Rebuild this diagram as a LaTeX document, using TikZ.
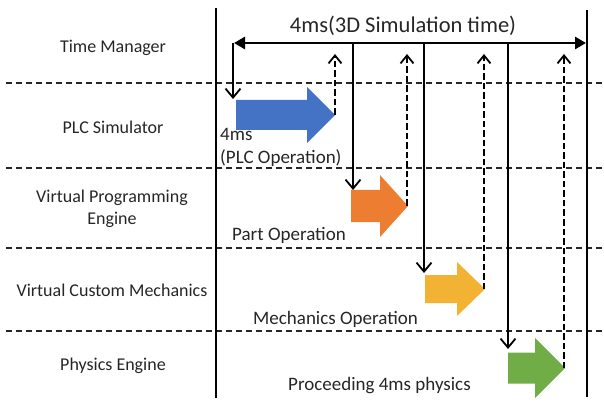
\documentclass[tikz,border=0pt]{standalone}
\usepackage{fontspec}
\setmainfont{Carlito}
\usetikzlibrary{arrows.meta}
\definecolor{plcblue}{HTML}{4472C4}
\definecolor{partorange}{HTML}{ED7D31}
\definecolor{mechyellow}{HTML}{F2B233}
\definecolor{physgreen}{HTML}{70AD47}
\tikzset{
  lane/.style={draw=black!85, line width=1.2pt, dash pattern=on 6pt off 4pt},
  border/.style={draw=black, line width=2.4pt},
  span/.style={line width=2.8pt, {Triangle[length=11pt,width=12pt]}-{Triangle[length=11pt,width=12pt]}},
  trigger/.style={line width=1.8pt, -{Straight Barb[length=9pt,width=15pt,line width=1.8pt]}},
  report/.style={line width=1.9pt, dash pattern=on 6.5pt off 3pt, -{Straight Barb[length=8pt,width=13pt,line width=1.8pt]}},
  lanelabel/.style={font=\fontsize{18}{22}\selectfont, text=black!85, align=center},
  oplabel/.style={font=\fontsize{19}{23}\selectfont, text=black!85, align=left, anchor=west, inner sep=0pt}
}
\begin{document}
\begin{tikzpicture}[x=1pt,y=-1pt]
\useasboundingbox (0,0) rectangle (604,403);

% swim-lane separators
\foreach \yy in {83,168,248,331}
  \draw[lane] (6,\yy) -- (604,\yy);

% start and end of the 4 ms frame
\coordinate (frameTop) at (216,8);
\coordinate (frameBot) at (216,398);
\coordinate (endTop) at (587,10);
\coordinate (endBot) at (587,397);
\draw[border] (frameTop) -- (frameBot);
\draw[border] (endTop) -- (endBot);

% lane names
\node[lanelabel] (tm)  at (113,48)  {Time Manager};
\node[lanelabel] (plc) at (113,127) {PLC Simulator};
\node[lanelabel] (vpe) at (112,209) {Virtual Programming\\Engine};
\node[lanelabel] (vcm) at (112,290) {Virtual Custom Mechanics};
\node[lanelabel] (phy) at (113,366) {Physics Engine};

% 3D simulation time span
\coordinate (spanL) at (234,43);
\coordinate (spanR) at (586,43);
\draw[span] (spanL) -- (spanR);
\node[font=\fontsize{22.5}{26}\selectfont, text=black!85] (spanlabel) at (403,26) {4ms(3D Simulation time)};

% block arrows: body start, head base, tip, centre line, body half height, head half height, colour
\newcommand{\opblock}[7]{%
  \fill[#7] (#1,#4-#5) -- (#2,#4-#5) -- (#2,#4-#6) -- (#3,#4)
    -- (#2,#4+#6) -- (#2,#4+#5) -- (#1,#4+#5) -- cycle;}

\opblock{236}{307}{335}{115}{15}{28}{plcblue}
\opblock{351}{380}{408}{206}{16}{31}{partorange}
\opblock{425}{457}{485}{289}{14}{27}{mechyellow}
\opblock{508}{535}{565}{368}{15.5}{30}{physgreen}

\coordinate (plcTail) at (233,99);
\coordinate (partTail) at (353,190);
\coordinate (mechTail) at (424,273);
\coordinate (physTail) at (508,349);
\coordinate (plcTip) at (335,115);
\coordinate (partTip) at (407,206);
\coordinate (mechTip) at (484,289);
\coordinate (physTip) at (564,368);

\coordinate (t0) at (233,43);
\coordinate (t1) at (353,43);
\coordinate (t2) at (424,43);
\coordinate (t3) at (508,43);
\coordinate (r0) at (335,54);
\coordinate (r1) at (407,54);
\coordinate (r2) at (484,54);
\coordinate (r3) at (564,54);

% triggers from the Time Manager
\draw[trigger] (t0) -- (plcTail);
\draw[trigger] (t1) -- (partTail);
\draw[trigger] (t2) -- (mechTail);
\draw[trigger] (t3) -- (physTail);

% completion reports
\draw[report] (plcTip) -- (r0);
\draw[report] (partTip) -- (r1);
\draw[report] (mechTip) -- (r2);
\draw[report] (physTip) -- (r3);

% operation labels
\node[oplabel] (plcop) at (220,147) {4ms\\(PLC Operation)};
\node[oplabel] (partop) at (232,235) {Part Operation};
\node[oplabel] (mechop) at (253,319) {Mechanics Operation};
\node[oplabel] (physop) at (288,386) {Proceeding 4ms physics};
\end{tikzpicture}
\end{document}
